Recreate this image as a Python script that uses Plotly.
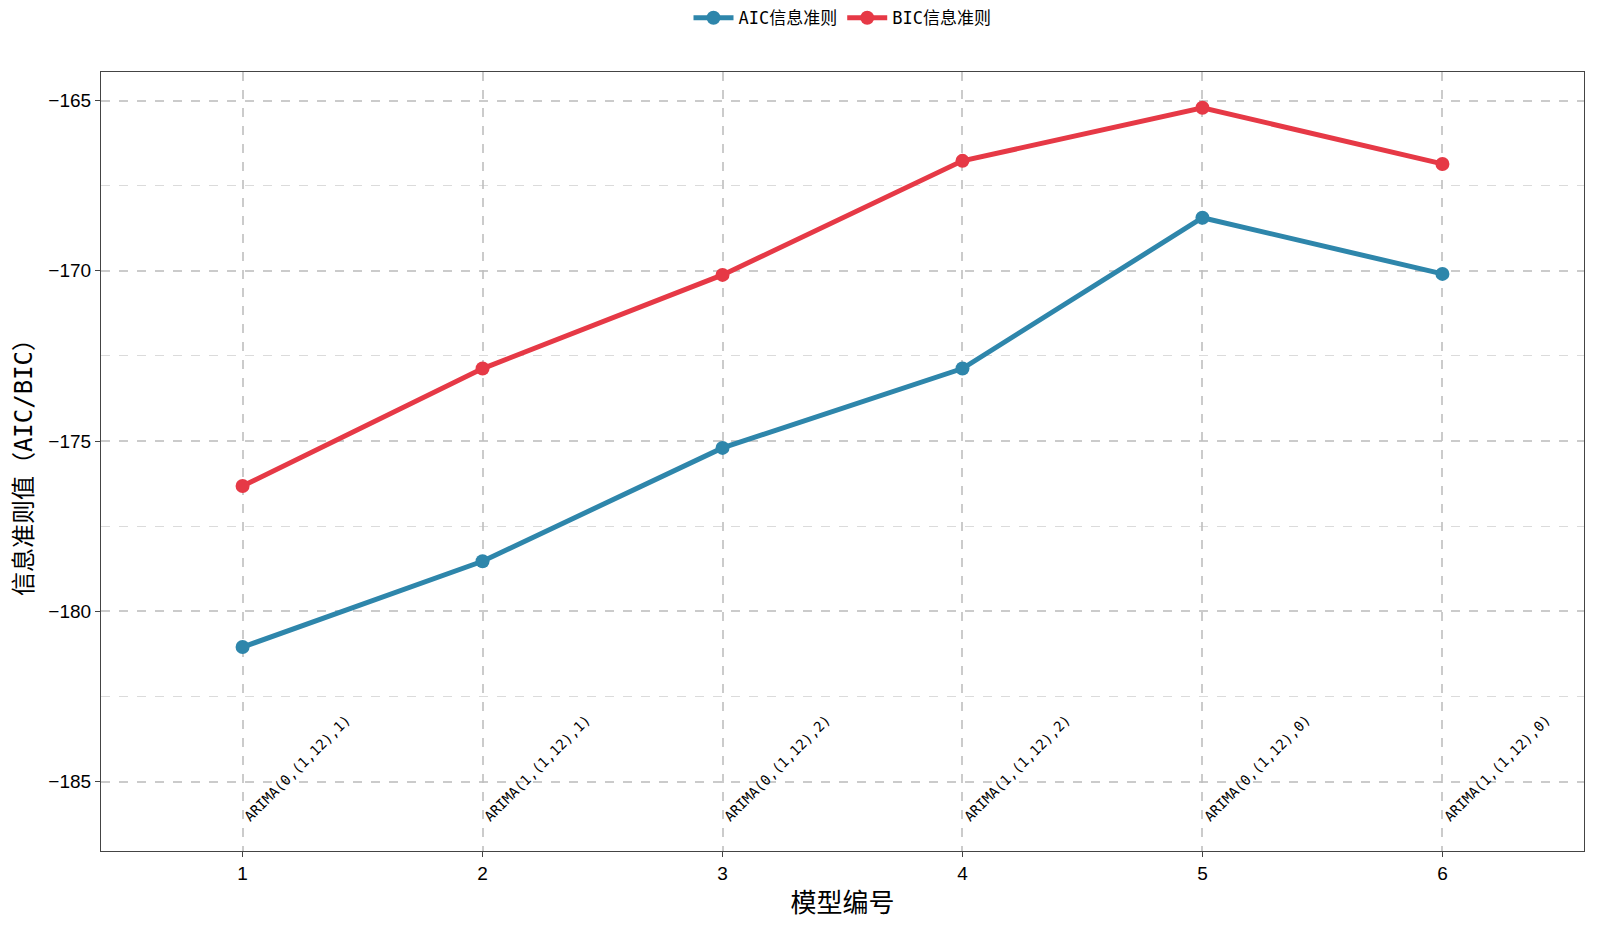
import plotly.graph_objects as go

models = [1, 2, 3, 4, 5, 6]
model_names = ["ARIMA(0,(1,12),1)", "ARIMA(1,(1,12),1)", "ARIMA(0,(1,12),2)",
               "ARIMA(1,(1,12),2)", "ARIMA(0,(1,12),0)", "ARIMA(1,(1,12),0)"]
aic = [-181.05, -178.53, -175.2, -172.87, -168.44, -170.09]
bic = [-176.32, -172.87, -170.12, -166.77, -165.21, -166.86]

CJK = "Noto Sans CJK SC"
MONO = "DejaVu Sans Mono, Noto Sans CJK SC"
fig = go.Figure()
fig.add_trace(go.Scatter(x=models, y=aic, mode="lines+markers", name="AIC信息准则",
                         line=dict(color="#2E86AB", width=5),
                         marker=dict(size=14, color="#2E86AB")))
fig.add_trace(go.Scatter(x=models, y=bic, mode="lines+markers", name="BIC信息准则",
                         line=dict(color="#E63946", width=5),
                         marker=dict(size=14, color="#E63946")))

for m, n in zip(models, model_names):
    fig.add_annotation(x=m, y=-186.35, text=n, showarrow=False, textangle=-45,
                       xanchor="left", yanchor="bottom", xshift=-4,
                       font=dict(family=MONO, size=14, color="black"))

grid = "rgba(190,190,190,0.8)"
fig.update_layout(
    width=1599, height=932,
    paper_bgcolor="white", plot_bgcolor="white",
    margin=dict(l=93, r=23, t=64, b=89),
    font=dict(family="Liberation Sans, Arial", color="black"),
    legend=dict(orientation="h", x=0.5, xanchor="center", y=0.989, yref="container",
                yanchor="middle", font=dict(family=MONO, size=17), itemwidth=40),
    showlegend=True,
)
fig.update_xaxes(range=[0.41, 6.59], tickvals=models, ticktext=[str(m) for m in models],
                 showline=True, linecolor="#444", linewidth=1.2, mirror=True,
                 ticks="outside", ticklen=5, tickcolor="#444",
                 showgrid=True, gridcolor=grid, griddash="dash", gridwidth=1.5,
                 zeroline=False, tickfont=dict(size=19),
                 title=dict(text="模型编号", font=dict(family=CJK, size=26), standoff=10))
fig.update_yaxes(range=[-187.04, -164.16], tickvals=[-185, -180, -175, -170, -165],
                 ticktext=["−185", "−180", "−175", "−170", "−165"],
                 showline=True, linecolor="#444", linewidth=1.2, mirror=True,
                 ticks="outside", ticklen=5, tickcolor="#444",
                 showgrid=True, gridcolor=grid, griddash="dash", gridwidth=1.5,
                 minor=dict(tickvals=[-182.5, -177.5, -172.5, -167.5], showgrid=True,
                            gridcolor="rgba(210,210,210,0.8)", griddash="dash", gridwidth=1),
                 zeroline=False, tickfont=dict(size=19),
                 title=dict(text="信息准则值（AIC/BIC）", font=dict(family=MONO, size=24), standoff=8))

fig.write_html("out.html")
